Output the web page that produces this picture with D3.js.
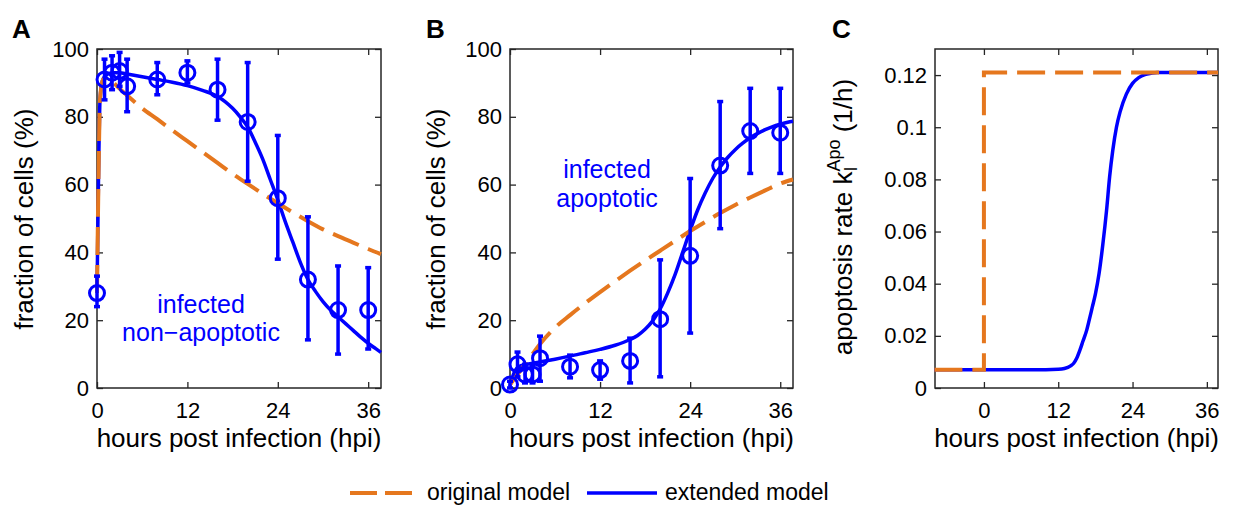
<!DOCTYPE html>
<html>
<head>
<meta charset="utf-8">
<style>
  body { margin: 0; background: #fff; }
  svg text { font-family: Arial, 'Liberation Sans', Helvetica, sans-serif; }
</style>
</head>
<body>
<svg id="fig" width="1238" height="506"></svg>
<script src="https://d3js.org/d3.v7.min.js"></script>
<script>
// ---- data ----
const hourTicks = [0, 12, 24, 36];
const pctTicks = [0, 20, 40, 60, 80, 100];
const rateTicks = [0, 0.02, 0.04, 0.06, 0.08, 0.1, 0.12];

// panel A: infected non-apoptotic (measured)
const timeA = [0, 1, 2, 3, 4, 8, 12, 16, 20, 24, 28, 32, 36];
const meanA = [28, 91, 93, 93.5, 89, 91, 93, 88, 78.5, 56, 32, 23, 23];
const lowA  = [24, 85, 88, 89, 81.5, 86.5, 90, 79, 61, 38, 14.2, 10, 11.5];
const highA = [33, 97, 98, 99, 97, 96, 96.5, 97, 96, 74.5, 50.5, 36, 35.5];

// panel A model curves [hpi, %]
const extendedA = [[0, 28], [0.2, 62], [0.4, 85], [0.7, 90.5], [1.2, 92.3], [2, 93], [3, 93], [4, 92.6],
  [6, 91.8], [8, 91], [10, 90.2], [12, 89.2], [14, 87.8], [16, 86], [17, 84.5], [18, 82.5], [19, 80],
  [20, 77], [21, 72.5], [22, 67.5], [23, 61.5], [24, 55.5], [25, 49], [26, 43], [27, 37], [28, 32],
  [29, 28.5], [30, 25.5], [31, 23], [32, 21], [33, 19], [34, 17], [35, 15], [36, 13.2], [37, 11.6], [37.7, 10.5]];
const originalA = [[0, 28], [0.2, 62], [0.4, 85], [0.8, 91], [1.5, 91.5], [2, 90.5], [3, 88.3], [4, 86.3],
  [6, 82.5], [8, 79.3], [10, 76], [12, 72.8], [14, 69.6], [16, 66.4], [18, 63.2], [20, 60.2], [22, 57.3],
  [24, 54.5], [26, 51.8], [28, 49.2], [30, 46.8], [32, 44.8], [34, 42.9], [36, 41], [37.7, 39.5]];

// panel B: infected apoptotic (measured)
const timeB = [0, 1, 2, 3, 4, 8, 12, 16, 20, 24, 28, 32, 36];
const meanB = [1, 7, 4, 4, 8.8, 6.3, 5.3, 8, 20.3, 39, 65.6, 75.8, 75.3];
const lowB  = [0, 3.3, 1.5, 1.5, 2, 3, 2.6, 1.5, 3.3, 16.2, 47, 63.3, 63.3];
const highB = [2, 10.6, 7, 7, 15.3, 9.7, 8, 14.7, 37.8, 61.8, 84.5, 88.4, 88.4];

const extendedB = [[0, 0.5], [0.3, 3], [0.7, 5.2], [1.2, 6.3], [2, 6.9], [3, 7.3], [4, 7.7], [6, 8.5],
  [8, 9.4], [10, 10.4], [12, 11.4], [14, 12.6], [16, 14.3], [17, 15.5], [18, 17.3], [19, 19.8], [20, 23.3],
  [21, 28], [22, 33.5], [23, 40], [24, 46.5], [25, 52.5], [26, 57.5], [27, 61.8], [28, 65.2], [29, 68],
  [30, 70.3], [31, 72.2], [32, 73.8], [33, 75.1], [34, 76.2], [35, 77.1], [36, 77.8], [37, 78.4], [37.7, 78.7]];
const originalB = [[0, 1], [1, 4], [2, 7], [3, 10], [4, 13], [6, 17.8], [8, 21.5], [10, 25], [12, 28.3],
  [14, 31.5], [16, 34.6], [18, 37.6], [20, 40.5], [22, 43.4], [24, 46.3], [26, 49], [28, 51.6], [30, 54],
  [32, 56.2], [34, 58.3], [36, 60.3], [37.7, 61.5]];

// panel C: apoptosis rate [hpi, 1/h]
const extendedC = [[-8, 0.007], [0, 0.007], [8, 0.007], [12, 0.0072], [13, 0.0075], [14, 0.0085],
  [14.5, 0.0095], [15, 0.0115], [15.5, 0.0145], [16, 0.018], [16.6, 0.0222], [17, 0.026], [17.5, 0.031],
  [18, 0.036], [18.6, 0.044], [19.2, 0.055], [19.8, 0.068], [20.3, 0.081], [20.8, 0.091], [21.4, 0.1],
  [22, 0.106], [23, 0.1127], [24, 0.1168], [25, 0.119], [26, 0.1202], [27, 0.1207], [28, 0.121], [37.8, 0.121]];
const originalC = [[-8, 0.007], [0, 0.007], [0, 0.121], [37.8, 0.121]];

const BLUE = "#0000ff";
const ORANGE = "#e5771e";
const AXIS = "#262626";
const TOP = 49, BOTTOM = 388;

const svg = d3.select("#fig");

function drawPanel(p) {
  const x = d3.scaleLinear().domain(p.xDomain).range([p.left, p.right]);
  const y = d3.scaleLinear().domain(p.yDomain).range([BOTTOM, TOP]);
  const g = svg.append("g");

  // axes with inward ticks on all four sides
  const fmt = p.yFormat || (d => d);
  g.append("g").attr("transform", `translate(0,${BOTTOM})`)
    .call(d3.axisBottom(x).tickValues(hourTicks).tickSizeInner(-6).tickSizeOuter(0).tickPadding(14));
  g.append("g").attr("transform", `translate(0,${TOP})`)
    .call(d3.axisTop(x).tickValues(hourTicks).tickSizeInner(-6).tickSizeOuter(0).tickFormat(""));
  g.append("g").attr("transform", `translate(${p.left},0)`)
    .call(d3.axisLeft(y).tickValues(p.yTicks).tickSizeInner(-6).tickSizeOuter(0).tickPadding(8).tickFormat(fmt));
  g.append("g").attr("transform", `translate(${p.right},0)`)
    .call(d3.axisRight(y).tickValues(p.yTicks).tickSizeInner(-6).tickSizeOuter(0).tickFormat(""));
  g.selectAll(".domain").remove();
  g.selectAll(".tick line").attr("stroke", AXIS).attr("stroke-width", 1.3);
  g.selectAll(".tick text").attr("font-size", 22).attr("font-family", null).attr("fill", "#000");

  g.append("rect")
    .attr("x", p.left).attr("y", TOP)
    .attr("width", p.right - p.left).attr("height", BOTTOM - TOP)
    .attr("fill", "none").attr("stroke", AXIS).attr("stroke-width", 1.5);

  const line = d3.line().x(d => x(d[0])).y(d => y(d[1]));

  g.append("path").datum(p.extended)
    .attr("d", line.curve(d3.curveMonotoneX))
    .attr("fill", "none").attr("stroke", BLUE).attr("stroke-width", 3.5);
  g.append("path").datum(p.original)
    .attr("d", line.curve(p.originalCurve || d3.curveMonotoneX))
    .attr("fill", "none").attr("stroke", ORANGE).attr("stroke-width", 4)
    .attr("stroke-dasharray", "28,10");

  if (p.time) {
    const pts = p.time.map((t, i) => ({ t: t, m: p.mean[i], lo: p.low[i], hi: p.high[i] }));
    const eb = g.append("g").attr("stroke", BLUE).attr("stroke-width", 3.5).attr("fill", "none");
    pts.forEach(d => {
      eb.append("line").attr("x1", x(d.t)).attr("x2", x(d.t)).attr("y1", y(d.lo)).attr("y2", y(d.hi));
      eb.append("line").attr("x1", x(d.t) - 3).attr("x2", x(d.t) + 3).attr("y1", y(d.lo)).attr("y2", y(d.lo));
      eb.append("line").attr("x1", x(d.t) - 3).attr("x2", x(d.t) + 3).attr("y1", y(d.hi)).attr("y2", y(d.hi));
    });
    g.append("g").selectAll("circle").data(pts).enter().append("circle")
      .attr("cx", d => x(d.t)).attr("cy", d => y(d.m)).attr("r", 7.5)
      .attr("fill", "none").attr("stroke", BLUE).attr("stroke-width", 3);
  }

  // x label
  g.append("text").attr("x", (p.left + p.right) / 2).attr("y", 447)
    .attr("text-anchor", "middle").attr("font-size", 26).text("hours post infection (hpi)");

  // panel letter
  g.append("text").attr("x", p.letterX).attr("y", 38)
    .attr("font-size", 26).attr("font-weight", "bold").text(p.letter);

  return { g, x, y };
}

const pA = drawPanel({
  letter: "A", letterX: 12, left: 97, right: 381, xDomain: [0, 37.7], yDomain: [0, 100], yTicks: pctTicks,
  extended: extendedA, original: originalA, time: timeA, mean: meanA, low: lowA, high: highA
});
const pB = drawPanel({
  letter: "B", letterX: 426, left: 510, right: 793, xDomain: [0, 37.7], yDomain: [0, 100], yTicks: pctTicks,
  extended: extendedB, original: originalB, time: timeB, mean: meanB, low: lowB, high: highB
});
const pC = drawPanel({
  letter: "C", letterX: 832, left: 935, right: 1218, xDomain: [-7.9, 37.8], yDomain: [0, 0.13], yTicks: rateTicks,
  yFormat: d => String(d), extended: extendedC, original: originalC, originalCurve: d3.curveLinear
});

// y labels
function yLabel(cx, cy) {
  return svg.append("text").attr("transform", `translate(${cx},${cy}) rotate(-90)`)
    .attr("text-anchor", "middle").attr("font-size", 26);
}
yLabel(33, 219).text("fraction of cells (%)");
yLabel(445, 219).text("fraction of cells (%)");
const lc = yLabel(852, 217);
lc.append("tspan").text("apoptosis rate k");
lc.append("tspan").attr("font-size", 18).attr("dy", 5).text("I");
lc.append("tspan").attr("font-size", 18).attr("dx", -5).attr("dy", -17).text("Apo");
lc.append("tspan").attr("dy", 12).text(" (1/h)");

// annotations
svg.append("text").attr("x", 201).attr("y", 313).attr("text-anchor", "middle")
  .attr("font-size", 25).attr("fill", BLUE).text("infected");
svg.append("text").attr("x", 201).attr("y", 341).attr("text-anchor", "middle")
  .attr("font-size", 25).attr("fill", BLUE).text("non\u2212apoptotic");
svg.append("text").attr("x", 607).attr("y", 178).attr("text-anchor", "middle")
  .attr("font-size", 25).attr("fill", BLUE).text("infected");
svg.append("text").attr("x", 607).attr("y", 207).attr("text-anchor", "middle")
  .attr("font-size", 25).attr("fill", BLUE).text("apoptotic");

// legend
const legend = svg.append("g");
legend.append("line").attr("x1", 350).attr("x2", 412).attr("y1", 493).attr("y2", 493)
  .attr("stroke", ORANGE).attr("stroke-width", 4).attr("stroke-dasharray", "27,8");
legend.append("text").attr("x", 427).attr("y", 500).attr("font-size", 23).text("original model");
legend.append("line").attr("x1", 587).attr("x2", 657).attr("y1", 493).attr("y2", 493)
  .attr("stroke", BLUE).attr("stroke-width", 3.5);
legend.append("text").attr("x", 665).attr("y", 500).attr("font-size", 23).text("extended model");
</script>
</body>
</html>
